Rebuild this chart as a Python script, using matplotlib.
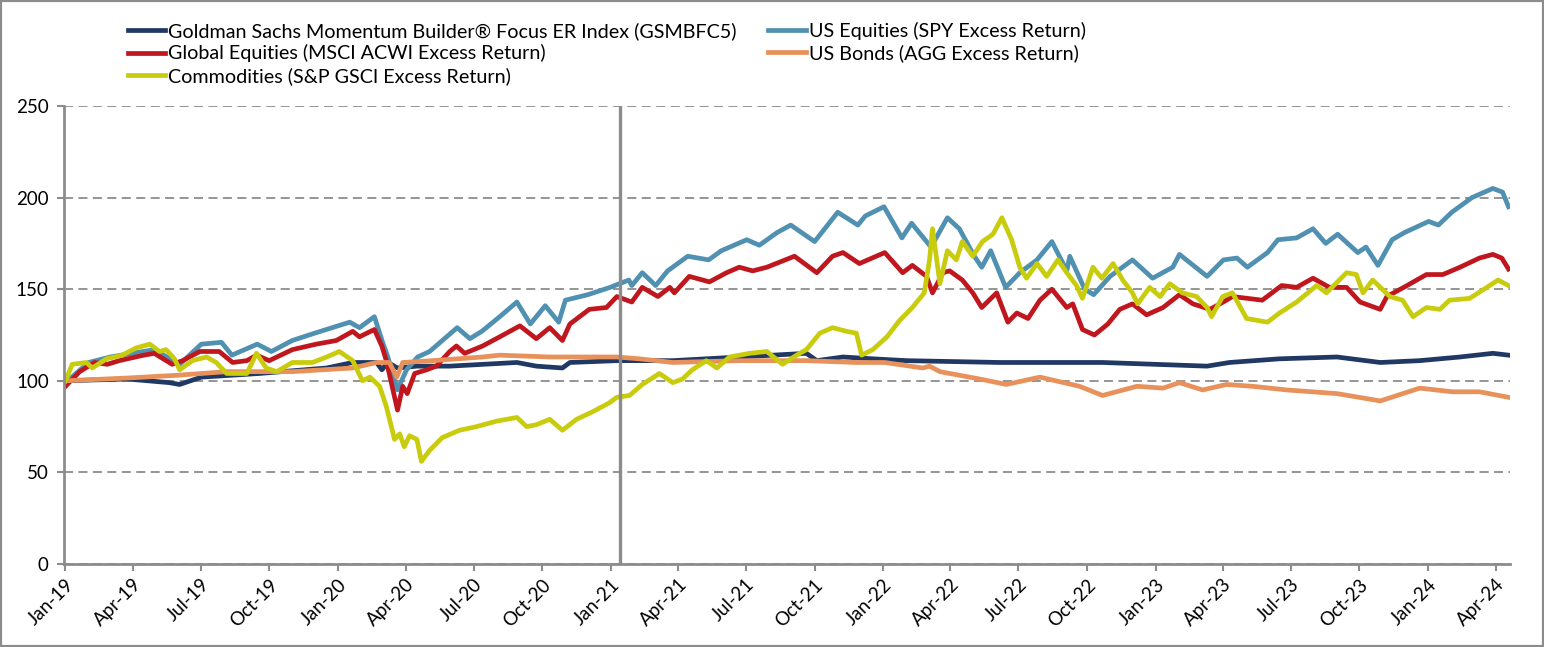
import pandas as pd
import matplotlib
matplotlib.use("Agg")
import matplotlib.pyplot as plt
import matplotlib.dates as mdates
from matplotlib.patches import Rectangle

# ---------------- data ----------------
gs_dates = ["2019-01-01", "2019-03-24", "2019-05-20", "2019-06-03", "2019-07-02", "2019-09-18",
            "2019-12-17", "2020-01-21", "2020-02-22", "2020-02-29", "2020-03-08", "2020-03-21",
            "2020-04-16", "2020-05-30", "2020-08-28", "2020-09-23", "2020-10-28", "2020-11-07",
            "2021-01-09", "2021-03-25", "2021-06-22", "2021-09-20", "2021-10-04", "2021-11-08",
            "2021-12-18", "2022-02-01", "2022-06-06", "2022-10-22", "2023-03-11", "2023-04-10",
            "2023-06-16", "2023-09-01", "2023-10-29", "2023-12-21", "2024-02-13", "2024-03-28",
            "2024-04-18"]
gs_values = [100, 101, 99, 98, 102, 104,
             107, 110, 110, 106, 110, 107,
             108, 108, 110, 108, 107, 110,
             111, 111, 113, 115, 111, 113,
             112, 111, 110, 110, 108, 110,
             112, 113, 110, 111, 113, 115,
             114]

spy_dates = ["2019-01-01", "2019-02-01", "2019-03-02", "2019-04-30", "2019-06-03", "2019-07-02",
             "2019-07-29", "2019-08-12", "2019-09-15", "2019-10-04", "2019-11-01", "2019-12-01",
             "2020-01-17", "2020-01-30", "2020-02-19", "2020-03-01", "2020-03-08", "2020-03-21",
             "2020-04-02", "2020-04-17", "2020-05-03", "2020-06-09", "2020-06-26", "2020-07-12",
             "2020-08-05", "2020-08-28", "2020-09-15", "2020-10-05", "2020-10-23", "2020-11-01",
             "2020-12-01", "2020-12-31", "2021-01-25", "2021-01-29", "2021-02-12", "2021-03-02",
             "2021-03-18", "2021-04-14", "2021-05-12", "2021-05-29", "2021-07-02", "2021-07-19",
             "2021-08-12", "2021-08-30", "2021-10-01", "2021-11-01", "2021-11-28", "2021-12-08",
             "2022-01-02", "2022-01-26", "2022-02-08", "2022-03-06", "2022-03-28", "2022-04-13",
             "2022-05-03", "2022-05-13", "2022-05-25", "2022-06-14", "2022-07-03", "2022-07-26",
             "2022-08-15", "2022-09-04", "2022-09-08", "2022-09-28", "2022-10-10", "2022-11-01",
             "2022-12-01", "2022-12-28", "2023-01-24", "2023-02-02", "2023-03-11", "2023-04-02",
             "2023-04-20", "2023-05-04", "2023-05-31", "2023-06-14", "2023-07-09", "2023-07-31",
             "2023-08-17", "2023-09-02", "2023-09-29", "2023-10-10", "2023-10-26", "2023-11-14",
             "2023-12-01", "2024-01-02", "2024-01-15", "2024-02-02", "2024-02-29", "2024-03-28",
             "2024-04-10", "2024-04-18"]
spy_values = [99, 110, 113, 117, 109, 120,
              121, 114, 120, 116, 122, 126,
              132, 129, 135, 121, 113, 95,
              106, 113, 116, 129, 123, 127,
              135, 143, 131, 141, 132, 144,
              147, 151, 155, 152, 159, 152,
              160, 168, 166, 171, 177, 174,
              181, 185, 176, 192, 185, 190,
              195, 178, 186, 173, 189, 183,
              168, 162, 171, 151, 159, 166,
              176, 160, 168, 150, 147, 157,
              166, 156, 162, 169, 157, 166,
              167, 162, 170, 177, 178, 183,
              175, 180, 170, 173, 163, 177,
              181, 187, 185, 192, 200, 205,
              203, 195]

acwi_dates = ["2019-01-01", "2019-01-20", "2019-02-09", "2019-02-26", "2019-03-14", "2019-04-16",
              "2019-04-30", "2019-05-24", "2019-06-07", "2019-06-30", "2019-07-26", "2019-08-13",
              "2019-09-01", "2019-09-14", "2019-10-01", "2019-11-01", "2019-12-03", "2019-12-30",
              "2020-01-21", "2020-01-30", "2020-02-19", "2020-02-29", "2020-03-06", "2020-03-21",
              "2020-03-28", "2020-04-03", "2020-04-13", "2020-04-29", "2020-05-12", "2020-05-30",
              "2020-06-08", "2020-06-19", "2020-07-13", "2020-08-05", "2020-09-01", "2020-09-23",
              "2020-10-11", "2020-10-28", "2020-11-07", "2020-12-03", "2020-12-26", "2021-01-09",
              "2021-01-29", "2021-02-12", "2021-03-05", "2021-03-21", "2021-03-27", "2021-04-16",
              "2021-05-13", "2021-06-05", "2021-06-22", "2021-07-10", "2021-07-29", "2021-09-04",
              "2021-10-04", "2021-10-25", "2021-11-08", "2021-11-30", "2022-01-03", "2022-01-27",
              "2022-02-09", "2022-02-28", "2022-03-08", "2022-03-22", "2022-03-31", "2022-04-17",
              "2022-05-01", "2022-05-13", "2022-06-02", "2022-06-17", "2022-06-29", "2022-07-14",
              "2022-07-30", "2022-08-15", "2022-09-04", "2022-09-12", "2022-09-25", "2022-10-11",
              "2022-10-29", "2022-11-14", "2022-12-01", "2022-12-20", "2023-01-11", "2023-02-02",
              "2023-02-20", "2023-03-15", "2023-04-06", "2023-04-14", "2023-05-24", "2023-06-19",
              "2023-07-09", "2023-07-31", "2023-08-22", "2023-09-14", "2023-10-02", "2023-10-29",
              "2023-11-07", "2023-12-04", "2023-12-30", "2024-01-21", "2024-02-13", "2024-03-10",
              "2024-03-28", "2024-04-09", "2024-04-18"]
acwi_values = [97, 105, 110, 109, 111, 114,
               115, 109, 111, 116, 116, 110,
               111, 114, 111, 117, 120, 122,
               127, 124, 128, 119, 111, 84,
               97, 93, 104, 106, 108, 116,
               119, 115, 119, 124, 130, 123,
               129, 122, 131, 139, 140, 146,
               143, 151, 146, 151, 148, 157,
               154, 159, 162, 160, 162, 168,
               159, 168, 170, 164, 170, 159,
               163, 157, 148, 159, 160, 155,
               148, 140, 148, 132, 137, 134,
               144, 150, 140, 142, 128, 125,
               131, 139, 142, 136, 140, 147,
               142, 139, 144, 146, 144, 152,
               151, 156, 151, 151, 143, 139,
               146, 152, 158, 158, 162, 167,
               169, 167, 161]

agg_dates = ["2019-01-01", "2019-03-24", "2019-05-30", "2019-08-05", "2019-11-01", "2020-01-21",
             "2020-02-22", "2020-03-10", "2020-03-20", "2020-03-28", "2020-05-07", "2020-07-13",
             "2020-08-05", "2020-10-11", "2021-01-09", "2021-02-08", "2021-03-25", "2021-06-22",
             "2021-09-20", "2021-11-26", "2022-01-03", "2022-02-23", "2022-03-04", "2022-03-18",
             "2022-03-31", "2022-05-10", "2022-06-15", "2022-07-30", "2022-09-21", "2022-10-22",
             "2022-12-07", "2023-01-11", "2023-02-02", "2023-03-05", "2023-04-06", "2023-05-11",
             "2023-06-26", "2023-09-01", "2023-10-15", "2023-10-29", "2023-12-21", "2024-02-03",
             "2024-03-10", "2024-04-18"]
agg_values = [100, 101.5, 103, 105, 105, 107,
              110, 110, 102, 110, 111, 113,
              114, 113, 113, 112, 110, 111,
              111, 110, 110, 107, 108, 105,
              104, 101, 98, 102, 97, 92,
              97, 96, 99, 95, 98, 97,
              95, 93, 90, 89, 96, 94,
              94, 91]

gsci_dates = ["2019-01-01", "2019-01-10", "2019-01-29", "2019-02-06", "2019-02-25", "2019-03-18",
              "2019-04-06", "2019-04-24", "2019-05-07", "2019-05-16", "2019-05-27", "2019-06-03",
              "2019-06-20", "2019-07-09", "2019-07-22", "2019-08-05", "2019-09-01", "2019-09-14",
              "2019-09-27", "2019-10-11", "2019-11-01", "2019-11-28", "2019-12-17", "2020-01-03",
              "2020-01-21", "2020-02-03", "2020-02-13", "2020-02-26", "2020-03-06", "2020-03-17",
              "2020-03-24", "2020-03-30", "2020-04-06", "2020-04-16", "2020-04-22", "2020-05-03",
              "2020-05-20", "2020-06-12", "2020-07-05", "2020-08-01", "2020-08-28", "2020-09-10",
              "2020-09-23", "2020-10-11", "2020-10-28", "2020-11-16", "2020-12-07", "2020-12-30",
              "2021-01-09", "2021-01-26", "2021-02-12", "2021-03-07", "2021-03-25", "2021-04-07",
              "2021-04-20", "2021-05-09", "2021-05-23", "2021-06-09", "2021-07-06", "2021-07-29",
              "2021-08-19", "2021-09-07", "2021-09-20", "2021-10-08", "2021-10-25", "2021-11-13",
              "2021-11-26", "2021-12-03", "2021-12-18", "2022-01-06", "2022-01-23", "2022-02-09",
              "2022-02-25", "2022-03-04", "2022-03-08", "2022-03-18", "2022-03-28", "2022-04-09",
              "2022-04-17", "2022-05-01", "2022-05-14", "2022-05-28", "2022-06-09", "2022-06-22",
              "2022-07-03", "2022-07-12", "2022-07-26", "2022-08-08", "2022-08-23", "2022-09-04",
              "2022-09-17", "2022-09-25", "2022-10-09", "2022-10-21", "2022-11-05", "2022-11-18",
              "2022-12-01", "2022-12-08", "2022-12-24", "2023-01-07", "2023-01-20", "2023-02-06",
              "2023-02-25", "2023-03-11", "2023-03-17", "2023-04-01", "2023-04-14", "2023-05-03",
              "2023-05-31", "2023-06-16", "2023-07-09", "2023-08-05", "2023-08-18", "2023-09-14",
              "2023-09-27", "2023-10-06", "2023-10-19", "2023-11-11", "2023-11-28", "2023-12-12",
              "2023-12-30", "2024-01-17", "2024-01-30", "2024-02-26", "2024-03-20", "2024-04-04",
              "2024-04-18"]
gsci_values = [100, 109, 110, 107, 112, 114,
               118, 120, 116, 117, 112, 106,
               111, 113, 110, 104, 104, 115,
               107, 105, 110, 110, 113, 116,
               111, 100, 102, 97, 86, 68,
               71, 64, 70, 68, 56, 62,
               69, 73, 75, 78, 80, 75,
               76, 79, 73, 79, 83, 88,
               91, 92, 98, 104, 99, 101,
               106, 111, 107, 113, 115, 116,
               109, 114, 117, 126, 129, 127,
               126, 114, 117, 124, 133, 140,
               148, 166, 183, 153, 171, 166,
               176, 168, 176, 180, 189, 177,
               162, 156, 164, 157, 166, 159,
               152, 145, 162, 156, 164, 155,
               148, 142, 151, 146, 153, 148,
               146, 140, 135, 146, 148, 134,
               132, 137, 143, 152, 148, 159,
               158, 148, 155, 146, 144, 135,
               140, 139, 144, 145, 151, 155,
               152]

series = [
    ("Goldman Sachs Momentum Builder® Focus ER Index (GSMBFC5)", gs_dates, gs_values, "#1f3864"),
    ("US Equities (SPY Excess Return)", spy_dates, spy_values, "#5090b0"),
    ("Global Equities (MSCI ACWI Excess Return)", acwi_dates, acwi_values, "#c0171f"),
    ("US Bonds (AGG Excess Return)", agg_dates, agg_values, "#e8915a"),
    ("Commodities (S&P GSCI Excess Return)", gsci_dates, gsci_values, "#c8cc0c"),
]
marker_date = "2021-01-13"

plt.rcParams['font.family'] = ['Lato', 'DejaVu Sans']
W, H = 1544, 647
fig = plt.figure(figsize=(W / 100, H / 100), dpi=100)
ax = fig.add_axes([64 / W, 1 - 564 / H, (1510 - 64) / W, (564 - 106) / H])

lines = {}
for name, d, v, c in series:
    ln, = ax.plot(pd.to_datetime(d), v, color=c, lw=3.4, solid_joinstyle='round', label=name)
    lines[name] = ln

ax.axvline(pd.to_datetime(marker_date), color="#8c8c8c", lw=2.4, zorder=5)

ax.set_ylim(0, 250)
ax.set_yticks([0, 50, 100, 150, 200, 250])
ax.set_xlim(pd.to_datetime("2018-12-30"), pd.to_datetime("2024-04-20"))
ax.xaxis.set_major_locator(mdates.MonthLocator(bymonth=[1, 4, 7, 10]))
ax.xaxis.set_major_formatter(mdates.DateFormatter("%b-%y"))
for lab in ax.get_xticklabels():
    lab.set_rotation(45)
    lab.set_ha("right")
    lab.set_rotation_mode("anchor")

ax.grid(axis="y", color="#8c8c8c", linestyle=(0, (5, 3)), lw=1.3)
ax.set_axisbelow(True)
for s in ["top", "right"]:
    ax.spines[s].set_visible(False)
for s in ["left", "bottom"]:
    ax.spines[s].set_color("#8c8c8c")
    ax.spines[s].set_linewidth(2)
ax.tick_params(axis="both", colors="#8c8c8c", width=1.5, length=5, labelcolor="black", labelsize=13.5)
ax.tick_params(axis="y", pad=6)

order = [series[0][0], series[2][0], series[4][0], series[1][0], series[3][0]]
fig.legend([lines[n] for n in order], order, ncol=2, loc="upper left",
           bbox_to_anchor=(128 / W, 1 - 22 / H), frameon=False, fontsize=14.2,
           handlelength=1.9, handletextpad=0.15, columnspacing=1.6, labelspacing=0.22,
           borderpad=0, borderaxespad=0)

fig.add_artist(Rectangle((0, 0), 1, 1, transform=fig.transFigure, fill=False,
                         edgecolor="#8c8c8c", lw=3))

fig.savefig("out.png", dpi=100)
